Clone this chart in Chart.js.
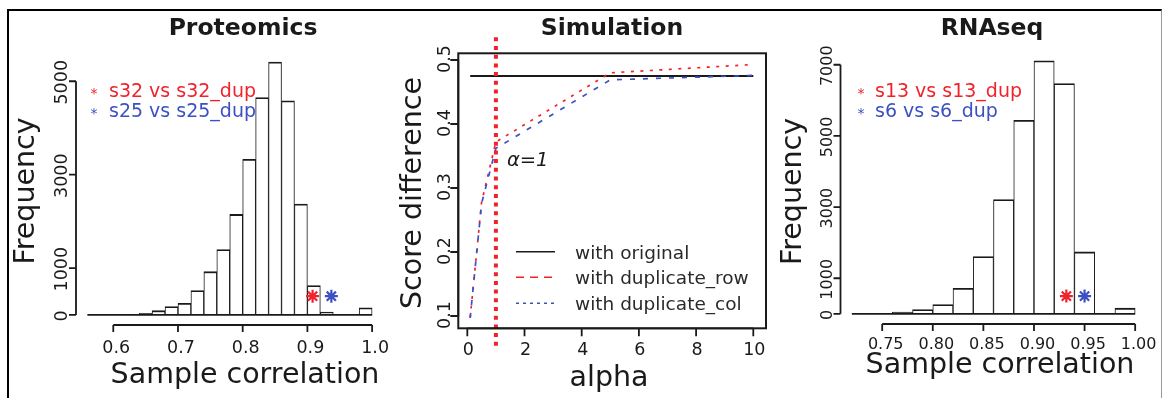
<!DOCTYPE html>
<html>
<head>
<meta charset="utf-8">
<script src="https://cdn.jsdelivr.net/npm/chart.js@4.4.1/dist/chart.umd.min.js"></script>
<style>
  html, body { margin: 0; padding: 0; background: #fff; }
  #wrap { position: relative; width: 1162px; height: 398px; overflow: hidden; background: #fff; }
  #wrap canvas { position: absolute; left: 0; top: 0; }
  #frame { position: absolute; left: 7px; top: 9px; width: 1152px; height: 420px;
           border-top: 2px solid #000; border-left: 2px solid #000; border-right: 1px solid #999; }
</style>
</head>
<body>
<div id="wrap">
  <div id="frame"></div>
  <canvas id="prot" width="1162" height="398"></canvas>
  <canvas id="sim" width="1162" height="398"></canvas>
  <canvas id="rna" width="1162" height="398"></canvas>
</div>
<script>
// ---------------- data ----------------
// Proteomics: histogram of sample correlations (bins of width 0.02)
const protBinMids = [0.57, 0.59, 0.61, 0.63, 0.65, 0.67, 0.69, 0.71, 0.73, 0.75, 0.77,
                     0.79, 0.81, 0.83, 0.85, 0.87, 0.89, 0.91, 0.93, 0.95, 0.97, 0.99];
const protCounts  = [0, 5, 8, 12, 35, 90, 180, 250, 520, 925, 1400,
                     2150, 3330, 4650, 5410, 4580, 2370, 630, 60, 0, 0, 150];
const protBreakRange = [0.56, 1.00];
const protPairs    = ['s32 vs s32_dup', 's25 vs s25_dup'];
const protPairCorr = [0.908, 0.937];
const protPairMarkY = [400, 400];
const protXTicks = [0.6, 0.7, 0.8, 0.9, 1.0];
const protXTickLabels = ['0.6', '0.7', '0.8', '0.9', '1.0'];
const protYTicks = [0, 1000, 3000, 5000];
const protYTickLabels = ['0', '1000', '3000', '5000'];

// Simulation: score difference against alpha
const alphaValues  = [0.1, 0.5, 1, 5, 10];
const withOriginal = [0.475, 0.475, 0.475, 0.475, 0.475];
const withDupRow   = [0.097, 0.278, 0.372, 0.480, 0.493];
const withDupCol   = [0.097, 0.276, 0.362, 0.469, 0.476];
const alphaChosen  = 1;
const simSeriesNames = ['with original', 'with duplicate_row', 'with duplicate_col'];
const simXTicks = [0, 2, 4, 6, 8, 10];
const simXTickLabels = ['0', '2', '4', '6', '8', '10'];
const simYTicks = [0.1, 0.2, 0.3, 0.4, 0.5];
const simYTickLabels = ['0.1', '0.2', '0.3', '0.4', '0.5'];

// RNAseq: histogram of sample correlations (bins of width 0.02)
const rnaBinMids = [0.73, 0.75, 0.77, 0.79, 0.81, 0.83, 0.85, 0.87, 0.89, 0.91, 0.93, 0.95, 0.97, 0.99];
const rnaCounts  = [0, 0, 50, 120, 260, 720, 1610, 3210, 5440, 7110, 6470, 1740, 0, 160];
const rnaBreakRange = [0.72, 1.00];
const rnaPairs    = ['s13 vs s13_dup', 's6 vs s6_dup'];
const rnaPairCorr = [0.932, 0.950];
const rnaPairMarkY = [500, 500];
const rnaXTicks = [0.75, 0.80, 0.85, 0.90, 0.95, 1.00];
const rnaXTickLabels = ['0.75', '0.80', '0.85', '0.90', '0.95', '1.00'];
const rnaYTicks = [0, 1000, 3000, 5000, 7000];
const rnaYTickLabels = ['0', '1000', '3000', '5000', '7000'];

// ---------------- style ----------------
const FONT = "'DejaVu Sans', 'Liberation Sans', sans-serif";
const INK  = '#1a1a1a';
const RED  = '#f0232d';
const BLUE = '#3c50c2';
const W = 1162, H = 398;

function rotText(ctx, text, x, y) {
  ctx.save();
  ctx.translate(x, y);
  ctx.rotate(-Math.PI / 2);
  ctx.textAlign = 'center';
  ctx.textBaseline = 'alphabetic';
  ctx.fillText(text, 0, 0);
  ctx.restore();
}

// Base-graphics style axes: axis lines span first..last tick, outward ticks,
// rotated y labels, panel title and axis titles.
function rAxesPlugin(s) {
  return {
    id: 'rAxes',
    afterDraw(chart) {
      const ctx = chart.ctx, a = chart.chartArea;
      const xs = chart.scales.x, ys = chart.scales.y;
      ctx.save();
      ctx.strokeStyle = INK; ctx.fillStyle = INK;
      ctx.lineCap = 'butt'; ctx.setLineDash([]);
      if (s.box) {
        ctx.lineWidth = s.boxWidth;
        ctx.strokeRect(a.left, a.top, a.right - a.left, a.bottom - a.top);
      }
      ctx.lineWidth = s.axisWidth;
      // bottom axis
      const xp = s.xTicks.map(v => xs.getPixelForValue(v));
      const yAx = a.bottom;
      ctx.beginPath();
      ctx.moveTo(xp[0], yAx); ctx.lineTo(xp[xp.length - 1], yAx);
      xp.forEach(p => { ctx.moveTo(p, yAx); ctx.lineTo(p, yAx + s.tickLen); });
      ctx.stroke();
      ctx.font = `${s.tickSize}px ${FONT}`;
      ctx.textAlign = 'center'; ctx.textBaseline = 'alphabetic';
      xp.forEach((p, i) => ctx.fillText(s.xTickLabels[i], p + s.xLabelShift, s.xLabelY));
      // left axis
      const yp = s.yTicks.map(v => ys.getPixelForValue(v));
      const xAx = a.left;
      ctx.beginPath();
      ctx.moveTo(xAx, yp[0]); ctx.lineTo(xAx, yp[yp.length - 1]);
      yp.forEach(p => { ctx.moveTo(xAx, p); ctx.lineTo(xAx - s.tickLen, p); });
      ctx.stroke();
      yp.forEach((p, i) => rotText(ctx, s.yTickLabels[i], s.yLabelX, p + s.yLabelShift));
      // titles
      ctx.font = `bold ${s.mainSize}px ${FONT}`;
      ctx.textAlign = 'center';
      ctx.fillText(s.main, s.mainX, s.mainY);
      ctx.font = `${s.labSize}px ${FONT}`;
      ctx.fillText(s.xTitle, s.xTitleX, s.xTitleY);
      rotText(ctx, s.yTitle, s.yTitleX, s.yTitleY);
      ctx.restore();
    }
  };
}

// Colored pair legend in the top-left corner of a histogram
function pairLegendPlugin(names, colors, starX, textX, rowY) {
  return {
    id: 'pairLegend',
    afterDraw(chart) {
      const ctx = chart.ctx;
      ctx.save();
      ctx.textBaseline = 'alphabetic';
      names.forEach((n, i) => {
        ctx.fillStyle = colors[i];
        ctx.font = `14px ${FONT}`;
        ctx.textAlign = 'center';
        ctx.fillText('*', starX, rowY[i] + 8);
        ctx.font = `19px ${FONT}`;
        ctx.textAlign = 'left';
        ctx.fillText(n, textX, rowY[i] + 7);
      });
      ctx.restore();
    }
  };
}

function histChart(id, mids, counts, breakRange, pairCorr, markY, xr, yr, pad, axes) {
  return new Chart(document.getElementById(id), {
    type: 'bar',
    data: {
      datasets: [
        {
          type: 'scatter',
          data: pairCorr.map((v, i) => ({ x: v, y: markY[i] })),
          pointStyle: 'star', pointRadius: 6.5, pointBorderWidth: 2.2,
          pointBorderColor: [RED, BLUE], pointBackgroundColor: [RED, BLUE],
          order: 0
        },
        {
          type: 'line',
          data: breakRange.map(v => ({ x: v, y: 0 })),
          borderColor: INK, borderWidth: 1.8, pointRadius: 0,
          order: 1
        },
        {
          type: 'bar',
          data: mids.map((m, i) => ({ x: m, y: counts[i] })),
          backgroundColor: '#ffffff', borderColor: INK,
          borderWidth: { top: 1.8, left: 1, right: 1, bottom: 0 },
          borderSkipped: false, barPercentage: 1, categoryPercentage: 1,
          order: 2
        }
      ]
    },
    options: {
      responsive: false, animation: false, events: [],
      layout: { padding: pad },
      plugins: { legend: { display: false }, tooltip: { enabled: false } },
      scales: {
        x: { type: 'linear', display: false, offset: false, min: xr[0], max: xr[1] },
        y: { type: 'linear', display: false, min: yr[0], max: yr[1] }
      }
    },
    plugins: axes
  });
}

// ---------------- Proteomics ----------------
histChart('prot', protBinMids, protCounts, protBreakRange, protPairCorr, protPairMarkY,
  [0.5424, 1.0176], [-216, 5626],
  { left: 76, right: W - 383.5, top: 52, bottom: H - 325 },
  [
    rAxesPlugin({
      box: false, axisWidth: 1.8, tickLen: 7, tickSize: 17.5,
      xTicks: protXTicks, xTickLabels: protXTickLabels, xLabelY: 353, xLabelShift: 3,
      yTicks: protYTicks, yTickLabels: protYTickLabels, yLabelX: 66.5, yLabelShift: 1,
      main: 'Proteomics', mainSize: 23.5, mainX: 243, mainY: 35,
      labSize: 28.5, xTitle: 'Sample correlation', xTitleX: 245, xTitleY: 383,
      yTitle: 'Frequency', yTitleX: 33.5, yTitleY: 191
    }),
    pairLegendPlugin(protPairs, [RED, BLUE], 94, 109, [89.5, 109.5])
  ]);

// ---------------- RNAseq ----------------
histChart('rna', rnaBinMids, rnaCounts, rnaBreakRange, rnaPairCorr, rnaPairMarkY,
  [0.7088, 1.0112], [-285, 7400],
  { left: 840.5, right: W - 1146.5, top: 50.5, bottom: H - 324 },
  [
    rAxesPlugin({
      box: false, axisWidth: 1.8, tickLen: 7, tickSize: 16,
      xTicks: rnaXTicks, xTickLabels: rnaXTickLabels, xLabelY: 348.5, xLabelShift: 3.5,
      yTicks: rnaYTicks, yTickLabels: rnaYTickLabels, yLabelX: 831.5, yLabelShift: 1,
      main: 'RNAseq', mainSize: 23.5, mainX: 992, mainY: 35,
      labSize: 28.5, xTitle: 'Sample correlation', xTitleX: 1000, xTitleY: 372.5,
      yTitle: 'Frequency', yTitleX: 801, yTitleY: 191.5
    }),
    pairLegendPlugin(rnaPairs, [RED, BLUE], 861, 875, [89.5, 109.5])
  ]);

// ---------------- Simulation ----------------
const simExtras = {
  id: 'simExtras',
  afterDatasetsDraw(chart) {
    const ctx = chart.ctx, a = chart.chartArea;
    const xs = chart.scales.x, ys = chart.scales.y;
    const xv = xs.getPixelForValue(alphaChosen);
    ctx.save();
    // chosen alpha marker
    ctx.strokeStyle = RED; ctx.lineWidth = 4; ctx.setLineDash([4, 4.7]);
    ctx.beginPath(); ctx.moveTo(xv, a.top - 16); ctx.lineTo(xv, a.bottom + 22); ctx.stroke();
    ctx.setLineDash([]);
    ctx.fillStyle = INK;
    ctx.font = `italic 19.5px ${FONT}`;
    ctx.textAlign = 'left'; ctx.textBaseline = 'alphabetic';
    ctx.fillText('\u03B1=1', xv + 11, ys.getPixelForValue(0.345) + 7);
    // legend
    const styles = [
      { color: INK, dash: [] },
      { color: RED, dash: [8, 6] },
      { color: BLUE, dash: [3, 4] }
    ];
    const rows = [251.7, 277.3, 303.3];
    ctx.font = `18.5px ${FONT}`;
    simSeriesNames.forEach((n, i) => {
      ctx.strokeStyle = styles[i].color; ctx.lineWidth = 1.6;
      ctx.setLineDash(styles[i].dash);
      ctx.beginPath(); ctx.moveTo(516, rows[i]); ctx.lineTo(555, rows[i]); ctx.stroke();
      ctx.setLineDash([]);
      ctx.fillStyle = '#2a2a2a';
      ctx.fillText(n, 575, rows[i] + 7);
    });
    ctx.restore();
  }
};

new Chart(document.getElementById('sim'), {
  type: 'line',
  data: {
    datasets: [
      { label: simSeriesNames[0], data: alphaValues.map((x, i) => ({ x, y: withOriginal[i] })),
        borderColor: INK, borderWidth: 1.8, pointRadius: 0, tension: 0, order: 2 },
      { label: simSeriesNames[1], data: alphaValues.map((x, i) => ({ x, y: withDupRow[i] })),
        borderColor: RED, borderWidth: 1.7, borderDash: [3, 6.5], pointRadius: 0, tension: 0, order: 1 },
      { label: simSeriesNames[2], data: alphaValues.map((x, i) => ({ x, y: withDupCol[i] })),
        borderColor: BLUE, borderWidth: 1.7, borderDash: [5, 8], pointRadius: 0, tension: 0, order: 0 }
    ]
  },
  options: {
    responsive: false, animation: false, events: [],
    layout: { padding: { left: 458.3, right: W - 766, top: 53.3, bottom: H - 328.3 } },
    plugins: { legend: { display: false }, tooltip: { enabled: false } },
    scales: {
      x: { type: 'linear', display: false, min: -0.315, max: 10.444 },
      y: { type: 'linear', display: false, min: 0.0808, max: 0.5105 }
    }
  },
  plugins: [
    rAxesPlugin({
      box: true, boxWidth: 2, axisWidth: 1.8, tickLen: 8, tickSize: 17.5,
      xTicks: simXTicks, xTickLabels: simXTickLabels, xLabelY: 355, xLabelShift: 1,
      yTicks: simYTicks, yTickLabels: simYTickLabels, yLabelX: 450, yLabelShift: -1,
      main: 'Simulation', mainSize: 23.5, mainX: 612, mainY: 35,
      labSize: 28.5, xTitle: 'alpha', xTitleX: 609, xTitleY: 386,
      yTitle: 'Score difference', yTitleX: 421, yTitleY: 193
    }),
    simExtras
  ]
});
</script>
</body>
</html>
